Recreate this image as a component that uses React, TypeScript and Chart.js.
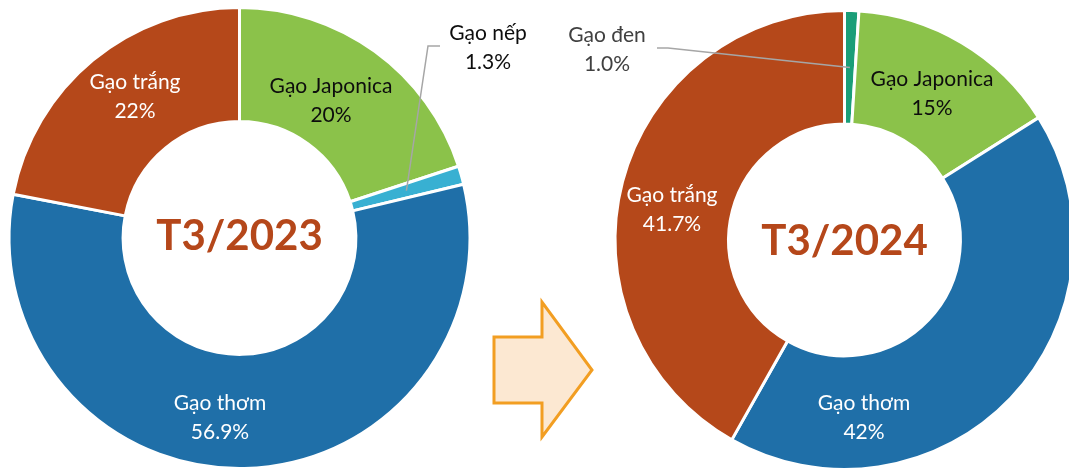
import React, { useEffect, useRef } from "react";
import { Chart, registerables } from "chart.js";

Chart.register(...registerables);

// ---------- data ----------
const categories2023 = ["Gạo Japonica", "Gạo nếp", "Gạo thơm", "Gạo trắng"];
const values2023 = [20, 1.3, 56.9, 22];
const decimals2023 = [0, 1, 1, 0];
const title2023 = "T3/2023";

const categories2024 = ["Gạo đen", "Gạo Japonica", "Gạo thơm", "Gạo trắng"];
const values2024 = [1.0, 15, 42, 41.7];
const decimals2024 = [1, 0, 0, 1];
const title2024 = "T3/2024";

// ---------- styles ----------
const FONT = "Lato, 'Open Sans', 'DejaVu Sans', sans-serif";
const CENTER_COLOR = "#B5471A";
const colorOf: Record<string, string> = {
  "Gạo Japonica": "#8BC24A",
  "Gạo nếp": "#38B0D2",
  "Gạo thơm": "#1F6FA8",
  "Gạo trắng": "#B5481A",
  "Gạo đen": "#1A9E78",
};
const textColorOf: Record<string, string> = {
  "Gạo Japonica": "#0D0D0D",
  "Gạo nếp": "#0D0D0D",
  "Gạo thơm": "#FFFFFF",
  "Gạo trắng": "#FFFFFF",
  "Gạo đen": "#404040",
};

// label block centres, relative to the doughnut centre (layout only)
const layout2023 = {
  labels: [
    { dx: 91.5, dy: -137 },
    { dx: 248.5, dy: -190 },
    { dx: -19.5, dy: 180 },
    { dx: -104.5, dy: -141.5 },
  ],
  leader: { index: 1, start: { dx: 200.5, dy: -192 }, bend: { dx: 188.5, dy: -192 } },
  titleDy: -2,
};
const layout2024 = {
  labels: [
    { dx: -237.5, dy: -190.5 },
    { dx: 87.5, dy: -146 },
    { dx: 19.5, dy: 178 },
    { dx: -172.5, dy: -30.5 },
  ],
  leader: { index: 0, start: { dx: -187.5, dy: -192 }, bend: { dx: -176.5, dy: -192 } },
  titleDy: 1,
};

const sliceLabels = {
  id: "sliceLabels",
  afterDatasetsDraw(chart: any, _args: any, opts: any) {
    const { ctx } = chart;
    const meta = chart.getDatasetMeta(0);
    const a0: any = meta.data[0];
    const cx = a0.x;
    const cy = a0.y;
    const cats: string[] = chart.data.labels;
    const vals: number[] = chart.data.datasets[0].data;
    const lay = opts.layout;
    ctx.save();
    // leader line
    const li = lay.leader.index;
    const arc: any = meta.data[li];
    const mid = (arc.startAngle + arc.endAngle) / 2;
    const mr = (arc.innerRadius + arc.outerRadius) / 2;
    ctx.strokeStyle = "#A6A6A6";
    ctx.lineWidth = 1.5;
    ctx.beginPath();
    ctx.moveTo(cx + lay.leader.start.dx, cy + lay.leader.start.dy);
    ctx.lineTo(cx + lay.leader.bend.dx, cy + lay.leader.bend.dy);
    ctx.lineTo(cx + Math.cos(mid) * mr, cy + Math.sin(mid) * mr);
    ctx.stroke();
    // labels
    ctx.textAlign = "center";
    ctx.textBaseline = "middle";
    ctx.font = `21px ${FONT}`;
    cats.forEach((c, i) => {
      const p = lay.labels[i];
      ctx.fillStyle = textColorOf[c];
      const x = cx + p.dx;
      const y = cy + p.dy;
      ctx.fillText(c, x, y - 14.5);
      ctx.fillText(vals[i].toFixed(opts.decimals[i]) + "%", x, y + 14.5);
    });
    // title
    ctx.font = `bold 42px ${FONT}`;
    ctx.fillStyle = CENTER_COLOR;
    ctx.fillText(opts.title, cx, cy + lay.titleDy);
    ctx.restore();
  },
};

function Donut(props: {
  cats: string[];
  vals: number[];
  decimals: number[];
  title: string;
  layout: any;
  left: number;
  width: number;
  height: number;
  padding: { left: number; right: number; top: number; bottom: number };
}) {
  const ref = useRef<HTMLCanvasElement | null>(null);
  useEffect(() => {
    if (!ref.current) return;
    const chart = new Chart(ref.current, {
      type: "doughnut",
      data: {
        labels: props.cats,
        datasets: [
          {
            data: props.vals,
            backgroundColor: props.cats.map((c) => colorOf[c]),
            borderColor: "#FFFFFF",
            borderWidth: 3,
          },
        ],
      },
      options: {
        responsive: false,
        animation: false,
        devicePixelRatio: 1,
        events: [],
        cutout: "50.5%",
        rotation: 0,
        layout: { padding: props.padding },
        plugins: {
          legend: { display: false },
          tooltip: { enabled: false },
          sliceLabels: { layout: props.layout, decimals: props.decimals, title: props.title },
        } as any,
      },
      plugins: [sliceLabels],
    });
    return () => chart.destroy();
  }, []);
  return (
    <canvas
      ref={ref}
      width={props.width}
      height={props.height}
      style={{ position: "absolute", left: props.left, top: 0, width: props.width, height: props.height }}
    />
  );
}

export default function App() {
  return (
    <div
      style={{
        position: "absolute",
        left: 0,
        top: 0,
        width: 1069,
        height: 469,
        overflow: "hidden",
        background: "#FFFFFF",
      }}
    >
      <Donut
        cats={categories2023}
        vals={values2023}
        decimals={decimals2023}
        title={title2023}
        layout={layout2023}
        left={0}
        width={540}
        height={480}
        padding={{ left: 7.5, right: 68.5, top: 6, bottom: 10 }}
      />
      <Donut
        cats={categories2024}
        vals={values2024}
        decimals={decimals2024}
        title={title2024}
        layout={layout2024}
        left={540}
        width={540}
        height={480}
        padding={{ left: 73.5, right: 4.5, top: 9, bottom: 9 }}
      />
      <svg
        width={1069}
        height={469}
        style={{ position: "absolute", left: 0, top: 0, pointerEvents: "none" }}
      >
        <polygon
          points="494,337 542,337 542,302 592,370 542,437 542,403 494,403"
          fill="#FCE8D2"
          stroke="#F29E22"
          strokeWidth={3}
          strokeLinejoin="miter"
        />
      </svg>
    </div>
  );
}
